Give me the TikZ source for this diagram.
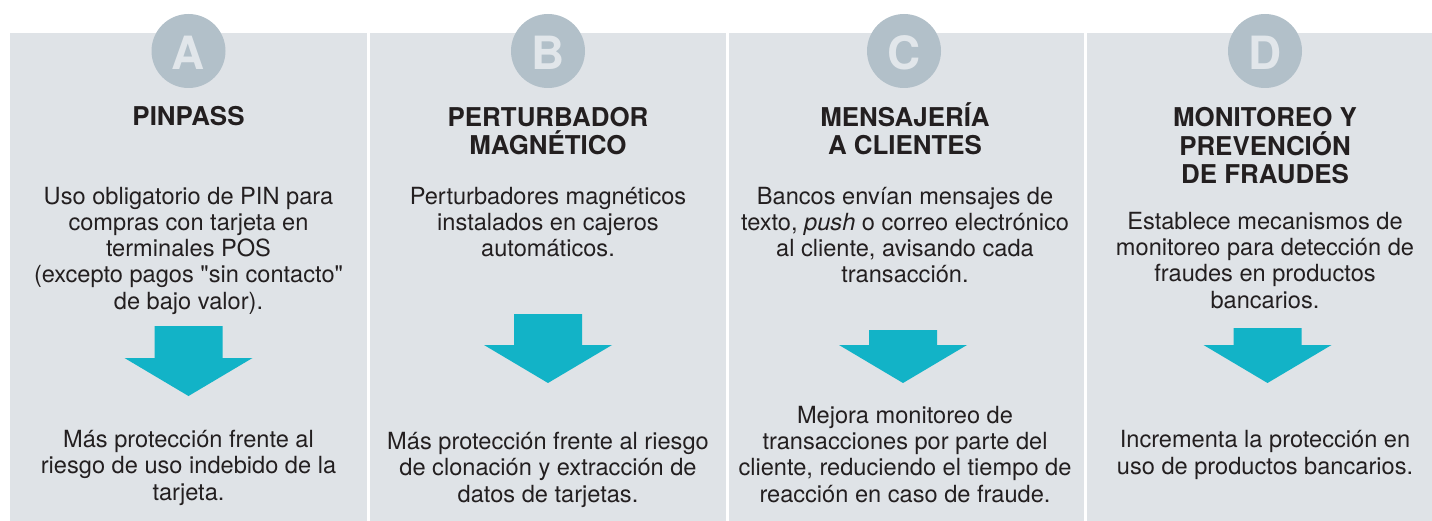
\documentclass[tikz,border=0pt]{standalone}
\usepackage{fontspec}
\setmainfont{TeX Gyre Heros}[Ligatures=TeXOff]
\usepackage{tikz}
\usetikzlibrary{positioning}
\usepackage{xcolor}
\definecolor{panelgris}{HTML}{DFE3E7}
\definecolor{circgris}{HTML}{B2C0C9}
\definecolor{letragris}{HTML}{E1E6EA}
\definecolor{turquesa}{HTML}{12B3C7}
\definecolor{textonegro}{HTML}{231F20}

\begin{document}
\begin{tikzpicture}[x=1bp, y=-1bp,
	panel/.style={fill=panelgris},
	circulo/.style={circle, fill=circgris, minimum size=74bp, inner sep=0pt},
	letra/.style={anchor=base, text=letragris, font=\fontsize{46}{46}\selectfont\bfseries},
	titulo/.style={anchor=base, align=center, text=textonegro, font=\fontsize{26}{28.8}\selectfont\bfseries},
	cuerpo/.style={anchor=base, align=center, text=textonegro, font=\fontsize{23.7}{26.3}\selectfont},
	flecha/.style={fill=turquesa}]
	\useasboundingbox (0,0) rectangle (1432,521);
	\fill[panel] (10,33) rectangle (366.5,521);
	\fill[panel] (369.5,33) rectangle (725.5,521);
	\fill[panel] (728.5,33) rectangle (1083.5,521);
	\fill[panel] (1086.5,33) rectangle (1432,521);
	\node (c1) [circulo] at (188.5,51) {};
	\node (c2) [circulo] at (548,51) {};
	\node (c3) [circulo] at (904,51) {};
	\node (c4) [circulo] at (1265,51) {};
	\node (l1) [letra] at (188.5,70) {A};
	\node (l2) [letra] at (548,70) {B};
	\node (l3) [letra] at (904,70) {C};
	\node (l4) [letra] at (1265,70) {D};
	\node (t1) [titulo] at (188.5,126) {PINPASS};
	\node (t2) [titulo] at (548,155) {PERTURBADOR\\MAGNÉTICO};
	\node (t3) [titulo] at (905,155) {MENSAJERÍA\\A CLIENTES};
	\node (t4) [titulo] at (1265,184) {MONITOREO Y\\PREVENCIÓN\\DE FRAUDES};
	\node (d1) [cuerpo] at (188.5,309) {Uso obligatorio de PIN para\\compras con tarjeta en\\terminales POS\\(excepto pagos "sin contacto"\\de bajo valor).};
	\node (d2) [cuerpo] at (548,257) {Perturbadores magnéticos\\instalados en cajeros\\automáticos.};
	\node (d3) [cuerpo] at (905,283) {Bancos envían mensajes de\\texto, \textit{push} o correo electrónico\\al cliente, avisando cada\\transacción.};
	\node (d4) [cuerpo] at (1265,308) {Establece mecanismos de\\monitoreo para detección de\\fraudes en productos\\bancarios.};
	\coordinate (p1) at (188.5,396);
	\coordinate (p2) at (548,383);
	\coordinate (p3) at (903,383);
	\coordinate (p4) at (1267.5,383);
	\fill[flecha] (p1) -- ++(-64,-38) -- ++(30,0) -- ++(0,-32) -- ++(68,0) -- ++(0,32) -- ++(30,0) -- cycle;
	\fill[flecha] (p2) -- ++(-64,-38) -- ++(30,0) -- ++(0,-31) -- ++(68,0) -- ++(0,31) -- ++(30,0) -- cycle;
	\fill[flecha] (p3) -- ++(-64,-38) -- ++(30,0) -- ++(0,-15) -- ++(68,0) -- ++(0,15) -- ++(30,0) -- cycle;
	\fill[flecha] (p4) -- ++(-64,-38) -- ++(30,0) -- ++(0,-17) -- ++(68,0) -- ++(0,17) -- ++(30,0) -- cycle;
	\node (r1) [cuerpo] at (188.5,500) {Más protección frente al\\riesgo de uso indebido de la\\tarjeta.};
	\node (r2) [cuerpo] at (548,502) {Más protección frente al riesgo\\de clonación y extracción de\\datos de tarjetas.};
	\node (r3) [cuerpo] at (905,502) {Mejora monitoreo de\\transacciones por parte del\\cliente, reduciendo el tiempo de\\reacción en caso de fraude.};
	\node (r4) [cuerpo] at (1265,474) {Incrementa la protección en\\uso de productos bancarios.};
\end{tikzpicture}
\end{document}
